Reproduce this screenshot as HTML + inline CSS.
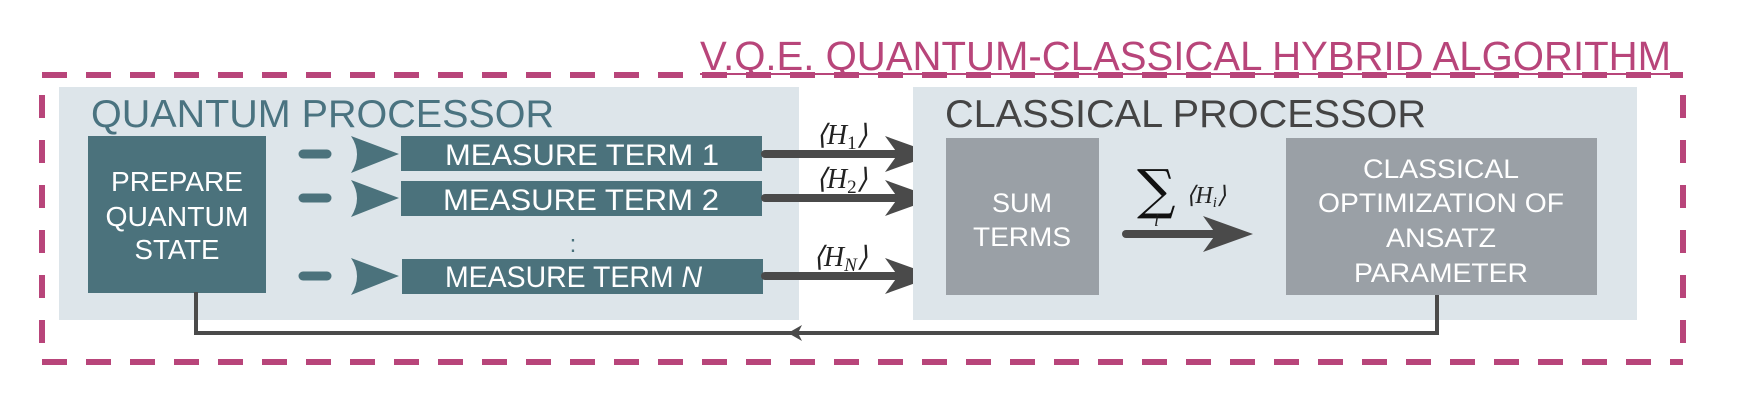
<!DOCTYPE html>
<html><head><meta charset="utf-8"><style>
html,body{margin:0;padding:0;background:#fff;}
svg{display:block;}
.s{font-family:"Liberation Sans",sans-serif;}
.m{font-family:"Liberation Serif",serif;font-style:italic;}
</style></head><body>
<svg width="1738" height="404" viewBox="0 0 1738 404" xmlns="http://www.w3.org/2000/svg">
<g stroke="#b8457a" stroke-width="6" fill="none">
<line x1="42" y1="75" x2="1683" y2="75" stroke-dasharray="25 19"/>
<line x1="42" y1="362" x2="1683" y2="362" stroke-dasharray="25 19"/>
<line x1="42" y1="95" x2="42" y2="345" stroke-dasharray="23 22"/>
<line x1="1683" y1="95" x2="1683" y2="345" stroke-dasharray="23 22"/>
</g>
<text class="s" x="700" y="70" font-size="41" fill="#b8457a" textLength="971" lengthAdjust="spacingAndGlyphs">V.Q.E. QUANTUM-CLASSICAL HYBRID ALGORITHM</text>
<line x1="700" y1="74" x2="1671" y2="74" stroke="#b8457a" stroke-width="2"/>

<rect x="59" y="87" width="740" height="233" fill="#dde5ea"/>
<text class="s" x="91" y="127" font-size="39" fill="#4a7380" textLength="463" lengthAdjust="spacingAndGlyphs">QUANTUM PROCESSOR</text>
<rect x="88" y="136" width="178" height="157" fill="#4b727c"/>
<g class="s" font-size="28" fill="#fff" text-anchor="middle">
<text x="177" y="191" textLength="132" lengthAdjust="spacingAndGlyphs">PREPARE</text>
<text x="177" y="226" textLength="143" lengthAdjust="spacingAndGlyphs">QUANTUM</text>
<text x="177" y="259" textLength="85" lengthAdjust="spacingAndGlyphs">STATE</text>
</g>
<g fill="#4b727c" stroke="#4b727c">
<line x1="303" y1="154" x2="327" y2="154" stroke-width="9" stroke-linecap="round"/>
<line x1="303" y1="198" x2="327" y2="198" stroke-width="9" stroke-linecap="round"/>
<line x1="303" y1="276" x2="327" y2="276" stroke-width="9" stroke-linecap="round"/>
<path stroke="none" d="M351 136 L399 154 L351 173 Q363 154 351 136Z"/>
<path stroke="none" d="M351 180 L399 198 L351 217 Q363 198 351 180Z"/>
<path stroke="none" d="M351 258 L399 276 L351 295 Q363 276 351 258Z"/>
</g>
<rect x="401" y="136" width="361" height="35" fill="#4b727c"/>
<rect x="401" y="181" width="361" height="35" fill="#4b727c"/>
<rect x="402" y="259" width="361" height="35" fill="#4b727c"/>
<g class="s" font-size="30" fill="#fff">
<text x="445" y="165" textLength="274" lengthAdjust="spacingAndGlyphs">MEASURE TERM 1</text>
<text x="443" y="210" textLength="276" lengthAdjust="spacingAndGlyphs">MEASURE TERM 2</text>
<text x="445" y="287" textLength="257" lengthAdjust="spacingAndGlyphs">MEASURE TERM <tspan font-style="italic">N</tspan></text>
</g>
<text class="s" x="573" y="252" font-size="24" fill="#4b727c" text-anchor="middle">:</text>

<g fill="#4a4a4a" stroke="#4a4a4a">
<line x1="765" y1="154" x2="905" y2="154" stroke-width="8" stroke-linecap="round"/>
<line x1="765" y1="198" x2="905" y2="198" stroke-width="8" stroke-linecap="round"/>
<line x1="765" y1="276" x2="905" y2="276" stroke-width="8" stroke-linecap="round"/>
<path stroke="none" d="M885 136 L935 154 L885 172 L898 154Z"/>
<path stroke="none" d="M885 180 L935 198 L885 216 L898 198Z"/>
<path stroke="none" d="M885 258 L935 276 L885 294 L898 276Z"/>
</g>
<g class="m" font-size="28" fill="#222">
<text x="816" y="144">⟨H<tspan font-style="normal" font-size="19" dy="5">1</tspan><tspan dy="-5">⟩</tspan></text>
<text x="816" y="188">⟨H<tspan font-style="normal" font-size="19" dy="5">2</tspan><tspan dy="-5">⟩</tspan></text>
<text x="813" y="266">⟨H<tspan font-size="19" dy="5">N</tspan><tspan dy="-5">⟩</tspan></text>
</g>

<rect x="913" y="87" width="724" height="233" fill="#dde5ea"/>
<text class="s" x="945" y="127" font-size="39" fill="#444" textLength="481" lengthAdjust="spacingAndGlyphs">CLASSICAL PROCESSOR</text>
<rect x="946" y="138" width="153" height="157" fill="#9aa0a6"/>
<g class="s" font-size="27" fill="#fff" text-anchor="middle">
<text x="1022" y="212">SUM</text>
<text x="1022" y="246" textLength="98" lengthAdjust="spacingAndGlyphs">TERMS</text>
</g>
<text x="1137" y="208" font-family="'DejaVu Serif',serif" font-size="54" fill="#111">∑</text>
<text class="m" x="1154" y="226" font-size="18" fill="#222">i</text>
<text class="m" x="1186" y="203" font-size="24" fill="#222">⟨H<tspan font-size="15" dy="4">i</tspan><tspan dy="-4">⟩</tspan></text>
<g fill="#4a4a4a">
<line x1="1126" y1="234" x2="1215" y2="234" stroke="#4a4a4a" stroke-width="8" stroke-linecap="round"/>
<path d="M1203 216 L1253 234 L1203 252 L1216 234Z"/>
</g>
<rect x="1286" y="138" width="311" height="157" fill="#9aa0a6"/>
<g class="s" font-size="27" fill="#fff" text-anchor="middle">
<text x="1441" y="178" textLength="156" lengthAdjust="spacingAndGlyphs">CLASSICAL</text>
<text x="1441" y="212" textLength="246" lengthAdjust="spacingAndGlyphs">OPTIMIZATION OF</text>
<text x="1441" y="247" textLength="110" lengthAdjust="spacingAndGlyphs">ANSATZ</text>
<text x="1441" y="282" textLength="174" lengthAdjust="spacingAndGlyphs">PARAMETER</text>
</g>

<polyline points="1437,295 1437,333 196,333 196,292" fill="none" stroke="#4a4a4a" stroke-width="4"/>
<path d="M788 333 L802 325 L798 333 L802 341Z" fill="#4a4a4a"/>
</svg>
</body></html>
